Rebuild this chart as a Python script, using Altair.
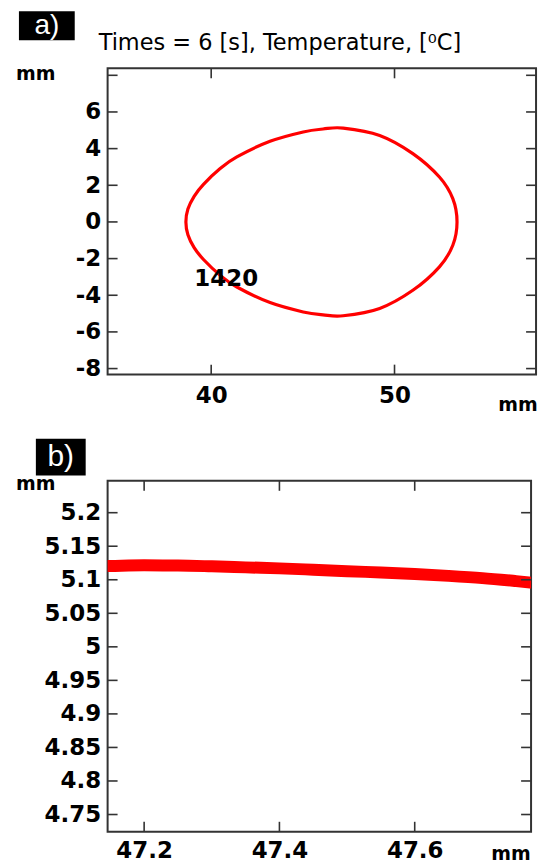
import altair as alt
import pandas as pd

# ---------------- data ----------------
# panel a: contour 1420 (mm)
contour_x = [53.41, 53.18, 52.45, 51.00, 49.19, 47.20, 46.10, 45.02, 43.21, 41.40, 40.49, 39.58, 39.07, 38.73,
             38.62, 38.73, 39.07, 39.58, 40.49, 41.40, 43.21, 45.02, 46.10, 47.20, 49.19, 51.00, 52.45, 53.18]
contour_y = [0.00, 1.27, 2.45, 3.73, 4.72, 5.12, 5.07, 4.91, 4.40, 3.55, 2.91, 2.05, 1.40, 0.70,
             0.00, -0.70, -1.40, -2.05, -2.91, -3.55, -4.40, -4.91, -5.07, -5.12, -4.72, -3.73, -2.45, -1.27]
label_text = ["1420"]
label_x = [40.82]
label_y = [-3.10]

a_xticks = [40, 50]
a_yticks = [-8, -6, -4, -2, 0, 2, 4, 6, 8]
a_ylabels = [-8, -6, -4, -2, 0, 2, 4, 6]
a_xdomain = [34.35, 57.72]
a_ydomain = [-8.33, 8.38]

# panel b: zoom on the top of the contour
zoom_x = [47.10, 47.15, 47.20, 47.25, 47.30, 47.35, 47.40, 47.45, 47.50, 47.55, 47.60, 47.65, 47.70, 47.75, 47.80]
zoom_y = [5.1195, 5.1205, 5.1215, 5.1212, 5.1200, 5.1185, 5.1170, 5.1150, 5.1128, 5.1108, 5.1085, 5.1058,
          5.1025, 5.0980, 5.0930]
b_xticks = [47.2, 47.4, 47.6]
b_yticks = [4.75, 4.8, 4.85, 4.9, 4.95, 5.0, 5.05, 5.1, 5.15, 5.2]
b_xdomain = [47.146, 47.772]
b_ydomain = [4.7243, 5.2475]

title_text = "Times = 6 [s], Temperature, [\u2070C]"

# ---------------- layout constants ----------------
WA = 430
WB = 425
HA = 307.4
HB = 352.2
OX = 107          # left of both plot areas
OYA = 65.3        # top of plot a
OYB = 476.3       # top of plot b
SPLIT = 420       # page row where panel a ends
FRAME = "#333333"
TL = 10           # tick length
FONT = "DejaVu Sans"

one = pd.DataFrame({"k": [0]})


def axis(values, pad):
    return alt.Axis(values=values, ticks=False, domain=False, grid=False,
                    labelFont=FONT, labelFontWeight="bold", labelFontSize=23,
                    labelColor="black", labelPadding=pad, title=None,
                    labelExpr="'' + datum.value", labelOverlap=False, labelFlush=False)


def panel(xdom, ydom, xticks, yticks, ylabels, W, H, oy, top_row, bottom_row, xpad,
          series_df, line_props, extras):
    def X(field):
        return alt.X(field, type="quantitative", scale=alt.Scale(domain=xdom, nice=False, zero=False),
                     axis=axis(xticks, xpad))

    def Y(field):
        return alt.Y(field, type="quantitative", scale=alt.Scale(domain=ydom, nice=False, zero=False),
                     axis=axis(ylabels, 7))

    bg = alt.Chart(one).mark_rect(opacity=0).encode(
        x=alt.value(-OX), x2=alt.value(548 - OX),
        y=alt.value(top_row - oy), y2=alt.value(bottom_row - oy))

    line = alt.Chart(series_df).mark_line(**line_props).encode(
        x=X("x"), y=Y("y"), order="i:Q")

    ydf = pd.DataFrame({"v": yticks})
    xdf = pd.DataFrame({"v": xticks})
    tick_style = dict(color=FRAME, strokeWidth=1.6)
    lt = alt.Chart(ydf).mark_rule(**tick_style).encode(y=Y("v"), x=alt.value(0), x2=alt.value(TL))
    rt = alt.Chart(ydf).mark_rule(**tick_style).encode(y=Y("v"), x=alt.value(W - TL), x2=alt.value(W))
    bt = alt.Chart(xdf).mark_rule(**tick_style).encode(x=X("v"), y=alt.value(H - TL), y2=alt.value(H))
    tt = alt.Chart(xdf).mark_rule(**tick_style).encode(x=X("v"), y=alt.value(0), y2=alt.value(TL))

    layers = [bg, line, lt, rt, bt, tt] + [e(X, Y) for e in extras]
    return alt.layer(*layers).properties(width=W, height=H)


def txt(s, px, py, oy, size, weight="bold", color="black", align="left", baseline="alphabetic", font=FONT):
    return lambda X, Y: alt.Chart(pd.DataFrame({"t": [s]})).mark_text(
        text=s, font=font, fontSize=size, fontWeight=weight, color=color, align=align, baseline=baseline
    ).encode(x=alt.value(px - OX), y=alt.value(py - oy))


def box(x1, y1, x2, y2, oy):
    return lambda X, Y: alt.Chart(one).mark_rect(color="black").encode(
        x=alt.value(x1 - OX), x2=alt.value(x2 - OX), y=alt.value(y1 - oy), y2=alt.value(y2 - oy))


def contour_label(X, Y):
    df = pd.DataFrame({"x": label_x, "y": label_y, "t": label_text})
    return alt.Chart(df).mark_text(font=FONT, fontSize=23, fontWeight="bold", color="black").encode(
        x=X("x"), y=Y("y"), text="t:N")


df_a = pd.DataFrame({"x": contour_x, "y": contour_y, "i": list(range(len(contour_x)))})
df_b = pd.DataFrame({"x": zoom_x, "y": zoom_y, "i": list(range(len(zoom_x)))})

panel_a = panel(
    a_xdomain, a_ydomain, a_xticks, a_yticks, a_ylabels, WA, HA, OYA, 0, SPLIT, 10, df_a,
    dict(color="#ff0000", strokeWidth=3.2, interpolate="cardinal-closed"),
    [contour_label,
     box(18, 8, 74, 37, OYA),
     txt("a)", 46, 23, OYA, 28, weight="normal", color="white", align="center", baseline="middle",
         font="Liberation Sans"),
     txt(title_text, 98, 47, OYA, 22.5, weight="normal"),
     txt("mm", 15, 77, OYA, 19),
     txt("mm", 499, 409, OYA, 19)])

panel_b = panel(
    b_xdomain, b_ydomain, b_xticks, b_yticks, b_yticks, WB, HB, OYB, SPLIT, 864, 8, df_b,
    dict(color="#ff0000", strokeWidth=12, interpolate="monotone", clip=True, strokeCap="butt"),
    [box(35, 434, 85, 471, OYB),
     txt("b)", 60, 452, OYB, 30, weight="normal", color="white", align="center", baseline="middle",
         font="Liberation Sans"),
     txt("mm", 15, 485, OYB, 19),
     txt("mm", 492, 861, OYB, 19, baseline="bottom")])

chart = alt.vconcat(panel_a, panel_b, spacing=0).properties(
    padding=0, background="white"
).configure_view(stroke=FRAME, strokeWidth=2)

chart.save("out.html", embed_options={"renderer": "svg", "actions": False})
